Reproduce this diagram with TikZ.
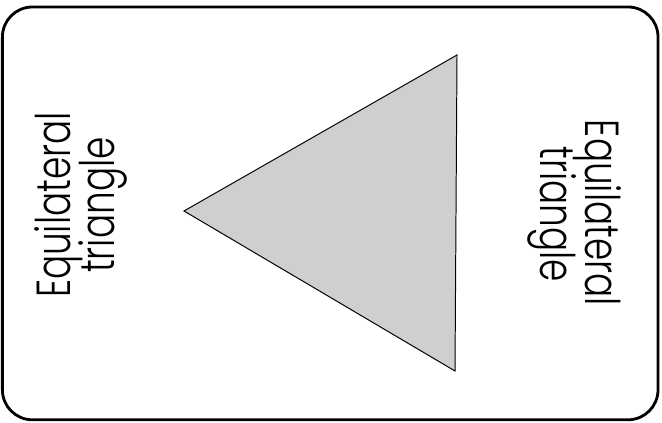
\documentclass[tikz,border=0pt]{standalone}
\usepackage{fontspec}
\setmainfont{Poppins}[UprightFont=* Light, FakeStretch=0.75]
\usepackage{tikz}
\usetikzlibrary{calc}

\tikzset{
  cardline/.style={line width=2pt, rounded corners=0.75cm},
  label/.style={font=\fontsize{34}{34}\selectfont, inner sep=0pt, anchor=base}
}

\begin{document}
\begin{tikzpicture}
  % page size (662 x 423 px, 40 px per cm)
  \useasboundingbox (0,0) rectangle (16.55,10.575);
  % card outline
  \draw[cardline] (0.06,0.08) rectangle (16.45,10.4);
  % the triangle
  \coordinate (apex) at (4.6,5.3);
  \coordinate (top) at (11.425,9.2);
  \coordinate (bot) at (11.375,1.3);
  \filldraw[fill=black!19, draw=black, line width=0.7pt] (apex) -- (top) -- (bot) -- cycle;
  % labels on the left, read upwards
  \node[label, rotate=90] (leftA) at (1.75,5.45) {Equilateral};
  \node[label, rotate=90] (leftB) at (2.85,5.45) {triangle};
  % labels on the right, read downwards
  \node[label, rotate=-90] (rightA) at (14.625,5.25) {Equilateral};
  \node[label, rotate=-90] (rightB) at (13.5,5.22) {triangle};
\end{tikzpicture}
\end{document}
